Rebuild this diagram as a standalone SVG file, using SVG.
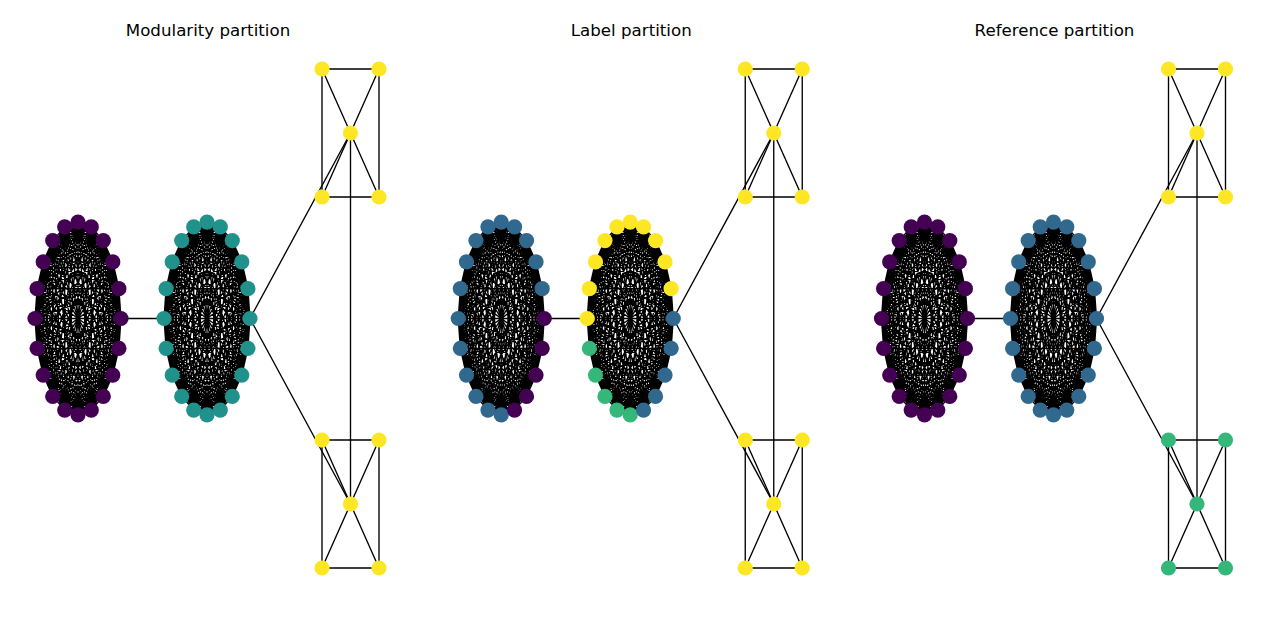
<svg xmlns="http://www.w3.org/2000/svg" width="1280" height="617" viewBox="0 0 1280 617">
<style>
.title{font-family:"DejaVu Sans","Liberation Sans",sans-serif;font-size:16.67px;fill:#000;text-anchor:middle}
.edges{fill:none;stroke:#000;stroke-width:1.35;stroke-linejoin:round}
circle{r:7.6}
.c0{fill:#440154}.c1{fill:#21918c}.c2{fill:#31688e}.c3{fill:#35b779}.c4{fill:#fde725}
</style>
<defs>
<path id="clique" d="M43,0 L40.9,-29.8 34.8,-56.6 25.3,-77.9 13.3,-91.6 0,-96.3 -13.3,-91.6 -25.3,-77.9 -34.8,-56.6 -40.9,-29.8 -43,0 -40.9,29.8 -34.8,56.6 -25.3,77.9 -13.3,91.6 0,96.3 13.3,91.6 25.3,77.9 34.8,56.6 40.9,29.8Z
M43,0 L34.8,-56.6 13.3,-91.6 -13.3,-91.6 -34.8,-56.6 -43,0 -34.8,56.6 -13.3,91.6 13.3,91.6 34.8,56.6Z
M40.9,-29.8 L25.3,-77.9 0,-96.3 -25.3,-77.9 -40.9,-29.8 -40.9,29.8 -25.3,77.9 0,96.3 25.3,77.9 40.9,29.8Z
M43,0 L25.3,-77.9 -13.3,-91.6 -40.9,-29.8 -34.8,56.6 0,96.3 34.8,56.6 40.9,-29.8 13.3,-91.6 -25.3,-77.9 -43,0 -25.3,77.9 13.3,91.6 40.9,29.8 34.8,-56.6 0,-96.3 -34.8,-56.6 -40.9,29.8 -13.3,91.6 25.3,77.9Z
M43,0 L13.3,-91.6 -34.8,-56.6 -34.8,56.6 13.3,91.6Z
M40.9,-29.8 L0,-96.3 -40.9,-29.8 -25.3,77.9 25.3,77.9Z
M34.8,-56.6 L-13.3,-91.6 -43,0 -13.3,91.6 34.8,56.6Z
M25.3,-77.9 L-25.3,-77.9 -40.9,29.8 0,96.3 40.9,29.8Z
M43,0 L0,-96.3 -43,0 0,96.3Z
M40.9,-29.8 L-13.3,-91.6 -40.9,29.8 13.3,91.6Z
M34.8,-56.6 L-25.3,-77.9 -34.8,56.6 25.3,77.9Z
M25.3,-77.9 L-34.8,-56.6 -25.3,77.9 34.8,56.6Z
M13.3,-91.6 L-40.9,-29.8 -13.3,91.6 40.9,29.8Z
M43,0 L-13.3,-91.6 -34.8,56.6 34.8,56.6 13.3,-91.6 -43,0 13.3,91.6 34.8,-56.6 -34.8,-56.6 -13.3,91.6Z
M40.9,-29.8 L-25.3,-77.9 -25.3,77.9 40.9,29.8 0,-96.3 -40.9,29.8 25.3,77.9 25.3,-77.9 -40.9,-29.8 0,96.3Z
M43,0 L-25.3,-77.9 -13.3,91.6 40.9,-29.8 -34.8,-56.6 0,96.3 34.8,-56.6 -40.9,-29.8 13.3,91.6 25.3,-77.9 -43,0 25.3,77.9 13.3,-91.6 -40.9,29.8 34.8,56.6 0,-96.3 -34.8,56.6 40.9,29.8 -13.3,-91.6 -25.3,77.9Z
M43,0 L-34.8,-56.6 13.3,91.6 13.3,-91.6 -34.8,56.6Z
M40.9,-29.8 L-40.9,-29.8 25.3,77.9 0,-96.3 -25.3,77.9Z
M34.8,-56.6 L-43,0 34.8,56.6 -13.3,-91.6 -13.3,91.6Z
M25.3,-77.9 L-40.9,29.8 40.9,29.8 -25.3,-77.9 0,96.3Z
M43,0 L-40.9,-29.8 34.8,56.6 -25.3,-77.9 13.3,91.6 0,-96.3 -13.3,91.6 25.3,-77.9 -34.8,56.6 40.9,-29.8 -43,0 40.9,29.8 -34.8,-56.6 25.3,77.9 -13.3,-91.6 0,96.3 13.3,-91.6 -25.3,77.9 34.8,-56.6 -40.9,29.8Z
M43,0 L-43,0 M40.9,-29.8 L-40.9,29.8 M34.8,-56.6 L-34.8,56.6 M25.3,-77.9 L-25.3,77.9 M13.3,-91.6 L-13.3,91.6 M0,-96.3 L0,96.3 M-13.3,-91.6 L13.3,91.6 M-25.3,-77.9 L25.3,77.9 M-34.8,-56.6 L34.8,56.6 M-40.9,-29.8 L40.9,29.8"/>
<path id="wheel" d="M-28.5,-64H28.5V64H-28.5Z M-28.5,-64L28.5,64 M28.5,-64L-28.5,64"/>
<g id="links">
<use href="#clique" x="78" y="318.5"/>
<use href="#clique" x="207" y="318.5"/>
<use href="#wheel" x="350.5" y="133"/>
<use href="#wheel" x="350.5" y="504"/>
<path d="M121,318.5H164 M250,318.5L350.5,133 M250,318.5L350.5,504 M350.5,133V504"/>
</g>
</defs>

<!-- Panel 1: Modularity partition -->
<g id="panel1">
<text class="title" x="208" y="35.5">Modularity partition</text>
<g id="panel1-connectors" class="edges"><use href="#links"/></g>
<g id="p1-left" class="c0" transform="translate(78,318.5)">
<circle id="p1-l0" cx="43" cy="0"/><circle id="p1-l1" cx="40.9" cy="-29.8"/><circle id="p1-l2" cx="34.8" cy="-56.6"/><circle id="p1-l3" cx="25.3" cy="-77.9"/><circle id="p1-l4" cx="13.3" cy="-91.6"/><circle id="p1-l5" cx="0" cy="-96.3"/><circle id="p1-l6" cx="-13.3" cy="-91.6"/><circle id="p1-l7" cx="-25.3" cy="-77.9"/><circle id="p1-l8" cx="-34.8" cy="-56.6"/><circle id="p1-l9" cx="-40.9" cy="-29.8"/><circle id="p1-l10" cx="-43" cy="0"/><circle id="p1-l11" cx="-40.9" cy="29.8"/><circle id="p1-l12" cx="-34.8" cy="56.6"/><circle id="p1-l13" cx="-25.3" cy="77.9"/><circle id="p1-l14" cx="-13.3" cy="91.6"/><circle id="p1-l15" cx="0" cy="96.3"/><circle id="p1-l16" cx="13.3" cy="91.6"/><circle id="p1-l17" cx="25.3" cy="77.9"/><circle id="p1-l18" cx="34.8" cy="56.6"/><circle id="p1-l19" cx="40.9" cy="29.8"/>
</g>
<g id="p1-right" class="c1" transform="translate(207,318.5)">
<circle id="p1-r0" cx="43" cy="0"/><circle id="p1-r1" cx="40.9" cy="-29.8"/><circle id="p1-r2" cx="34.8" cy="-56.6"/><circle id="p1-r3" cx="25.3" cy="-77.9"/><circle id="p1-r4" cx="13.3" cy="-91.6"/><circle id="p1-r5" cx="0" cy="-96.3"/><circle id="p1-r6" cx="-13.3" cy="-91.6"/><circle id="p1-r7" cx="-25.3" cy="-77.9"/><circle id="p1-r8" cx="-34.8" cy="-56.6"/><circle id="p1-r9" cx="-40.9" cy="-29.8"/><circle id="p1-r10" cx="-43" cy="0"/><circle id="p1-r11" cx="-40.9" cy="29.8"/><circle id="p1-r12" cx="-34.8" cy="56.6"/><circle id="p1-r13" cx="-25.3" cy="77.9"/><circle id="p1-r14" cx="-13.3" cy="91.6"/><circle id="p1-r15" cx="0" cy="96.3"/><circle id="p1-r16" cx="13.3" cy="91.6"/><circle id="p1-r17" cx="25.3" cy="77.9"/><circle id="p1-r18" cx="34.8" cy="56.6"/><circle id="p1-r19" cx="40.9" cy="29.8"/>
</g>
<g id="p1-top" class="c4" transform="translate(350.5,133)">
<circle id="p1-t0" cx="-28.5" cy="-64"/><circle id="p1-t1" cx="28.5" cy="-64"/><circle id="p1-t2" cx="0" cy="0"/><circle id="p1-t3" cx="-28.5" cy="64"/><circle id="p1-t4" cx="28.5" cy="64"/>
</g>
<g id="p1-bottom" class="c4" transform="translate(350.5,504)">
<circle id="p1-b0" cx="-28.5" cy="-64"/><circle id="p1-b1" cx="28.5" cy="-64"/><circle id="p1-b2" cx="0" cy="0"/><circle id="p1-b3" cx="-28.5" cy="64"/><circle id="p1-b4" cx="28.5" cy="64"/>
</g>
</g>

<!-- Panel 2: Label partition -->
<g id="panel2" transform="translate(423.25,0)">
<text class="title" x="208" y="35.5">Label partition</text>
<g id="panel2-connectors" class="edges"><use href="#links"/></g>
<g id="p2-left" class="c2" transform="translate(78,318.5)">
<circle id="p2-l0" class="c0" cx="43" cy="0"/><circle id="p2-l1" cx="40.9" cy="-29.8"/><circle id="p2-l2" cx="34.8" cy="-56.6"/><circle id="p2-l3" cx="25.3" cy="-77.9"/><circle id="p2-l4" cx="13.3" cy="-91.6"/><circle id="p2-l5" cx="0" cy="-96.3"/><circle id="p2-l6" cx="-13.3" cy="-91.6"/><circle id="p2-l7" cx="-25.3" cy="-77.9"/><circle id="p2-l8" cx="-34.8" cy="-56.6"/><circle id="p2-l9" cx="-40.9" cy="-29.8"/><circle id="p2-l10" cx="-43" cy="0"/><circle id="p2-l11" cx="-40.9" cy="29.8"/><circle id="p2-l12" cx="-34.8" cy="56.6"/><circle id="p2-l13" cx="-25.3" cy="77.9"/><circle id="p2-l14" cx="-13.3" cy="91.6"/><circle id="p2-l15" cx="0" cy="96.3"/><circle id="p2-l16" class="c0" cx="13.3" cy="91.6"/><circle id="p2-l17" class="c0" cx="25.3" cy="77.9"/><circle id="p2-l18" class="c0" cx="34.8" cy="56.6"/><circle id="p2-l19" class="c0" cx="40.9" cy="29.8"/>
</g>
<g id="p2-right" class="c2" transform="translate(207,318.5)">
<circle id="p2-r0" cx="43" cy="0"/><circle id="p2-r1" class="c4" cx="40.9" cy="-29.8"/><circle id="p2-r2" class="c4" cx="34.8" cy="-56.6"/><circle id="p2-r3" class="c4" cx="25.3" cy="-77.9"/><circle id="p2-r4" class="c4" cx="13.3" cy="-91.6"/><circle id="p2-r5" class="c4" cx="0" cy="-96.3"/><circle id="p2-r6" class="c4" cx="-13.3" cy="-91.6"/><circle id="p2-r7" class="c4" cx="-25.3" cy="-77.9"/><circle id="p2-r8" class="c4" cx="-34.8" cy="-56.6"/><circle id="p2-r9" class="c4" cx="-40.9" cy="-29.8"/><circle id="p2-r10" class="c4" cx="-43" cy="0"/><circle id="p2-r11" class="c3" cx="-40.9" cy="29.8"/><circle id="p2-r12" class="c3" cx="-34.8" cy="56.6"/><circle id="p2-r13" class="c3" cx="-25.3" cy="77.9"/><circle id="p2-r14" class="c3" cx="-13.3" cy="91.6"/><circle id="p2-r15" class="c3" cx="0" cy="96.3"/><circle id="p2-r16" cx="13.3" cy="91.6"/><circle id="p2-r17" cx="25.3" cy="77.9"/><circle id="p2-r18" cx="34.8" cy="56.6"/><circle id="p2-r19" cx="40.9" cy="29.8"/>
</g>
<g id="p2-top" class="c4" transform="translate(350.5,133)">
<circle id="p2-t0" cx="-28.5" cy="-64"/><circle id="p2-t1" cx="28.5" cy="-64"/><circle id="p2-t2" cx="0" cy="0"/><circle id="p2-t3" cx="-28.5" cy="64"/><circle id="p2-t4" cx="28.5" cy="64"/>
</g>
<g id="p2-bottom" class="c4" transform="translate(350.5,504)">
<circle id="p2-b0" cx="-28.5" cy="-64"/><circle id="p2-b1" cx="28.5" cy="-64"/><circle id="p2-b2" cx="0" cy="0"/><circle id="p2-b3" cx="-28.5" cy="64"/><circle id="p2-b4" cx="28.5" cy="64"/>
</g>
</g>

<!-- Panel 3: Reference partition -->
<g id="panel3" transform="translate(846.5,0)">
<text class="title" x="208" y="35.5">Reference partition</text>
<g id="panel3-connectors" class="edges"><use href="#links"/></g>
<g id="p3-left" class="c0" transform="translate(78,318.5)">
<circle id="p3-l0" cx="43" cy="0"/><circle id="p3-l1" cx="40.9" cy="-29.8"/><circle id="p3-l2" cx="34.8" cy="-56.6"/><circle id="p3-l3" cx="25.3" cy="-77.9"/><circle id="p3-l4" cx="13.3" cy="-91.6"/><circle id="p3-l5" cx="0" cy="-96.3"/><circle id="p3-l6" cx="-13.3" cy="-91.6"/><circle id="p3-l7" cx="-25.3" cy="-77.9"/><circle id="p3-l8" cx="-34.8" cy="-56.6"/><circle id="p3-l9" cx="-40.9" cy="-29.8"/><circle id="p3-l10" cx="-43" cy="0"/><circle id="p3-l11" cx="-40.9" cy="29.8"/><circle id="p3-l12" cx="-34.8" cy="56.6"/><circle id="p3-l13" cx="-25.3" cy="77.9"/><circle id="p3-l14" cx="-13.3" cy="91.6"/><circle id="p3-l15" cx="0" cy="96.3"/><circle id="p3-l16" cx="13.3" cy="91.6"/><circle id="p3-l17" cx="25.3" cy="77.9"/><circle id="p3-l18" cx="34.8" cy="56.6"/><circle id="p3-l19" cx="40.9" cy="29.8"/>
</g>
<g id="p3-right" class="c2" transform="translate(207,318.5)">
<circle id="p3-r0" cx="43" cy="0"/><circle id="p3-r1" cx="40.9" cy="-29.8"/><circle id="p3-r2" cx="34.8" cy="-56.6"/><circle id="p3-r3" cx="25.3" cy="-77.9"/><circle id="p3-r4" cx="13.3" cy="-91.6"/><circle id="p3-r5" cx="0" cy="-96.3"/><circle id="p3-r6" cx="-13.3" cy="-91.6"/><circle id="p3-r7" cx="-25.3" cy="-77.9"/><circle id="p3-r8" cx="-34.8" cy="-56.6"/><circle id="p3-r9" cx="-40.9" cy="-29.8"/><circle id="p3-r10" cx="-43" cy="0"/><circle id="p3-r11" cx="-40.9" cy="29.8"/><circle id="p3-r12" cx="-34.8" cy="56.6"/><circle id="p3-r13" cx="-25.3" cy="77.9"/><circle id="p3-r14" cx="-13.3" cy="91.6"/><circle id="p3-r15" cx="0" cy="96.3"/><circle id="p3-r16" cx="13.3" cy="91.6"/><circle id="p3-r17" cx="25.3" cy="77.9"/><circle id="p3-r18" cx="34.8" cy="56.6"/><circle id="p3-r19" cx="40.9" cy="29.8"/>
</g>
<g id="p3-top" class="c4" transform="translate(350.5,133)">
<circle id="p3-t0" cx="-28.5" cy="-64"/><circle id="p3-t1" cx="28.5" cy="-64"/><circle id="p3-t2" cx="0" cy="0"/><circle id="p3-t3" cx="-28.5" cy="64"/><circle id="p3-t4" cx="28.5" cy="64"/>
</g>
<g id="p3-bottom" class="c3" transform="translate(350.5,504)">
<circle id="p3-b0" cx="-28.5" cy="-64"/><circle id="p3-b1" cx="28.5" cy="-64"/><circle id="p3-b2" cx="0" cy="0"/><circle id="p3-b3" cx="-28.5" cy="64"/><circle id="p3-b4" cx="28.5" cy="64"/>
</g>
</g>
</svg>
